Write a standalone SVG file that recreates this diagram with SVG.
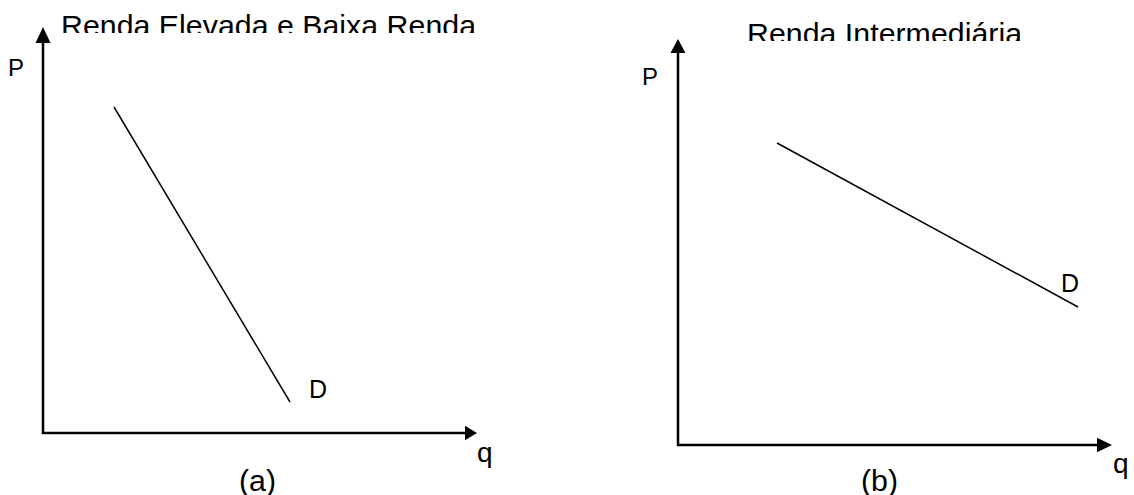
<svg xmlns="http://www.w3.org/2000/svg" width="1134" height="495" viewBox="0 0 1134 495">
<style>
text{font-family:"Liberation Sans",Arial,sans-serif;fill:#000}
.t{font-size:30.3px}
.l{font-size:24px}
.ax{stroke:#000;stroke-width:2.5;fill:none}
.d{stroke:#000;stroke-width:1.5;fill:none}
.ah{fill:#000}
</style>
<defs>
<clipPath id="clipA"><rect x="0" y="0" width="560" height="33"/></clipPath>
<clipPath id="clipB"><rect x="600" y="0" width="534" height="41"/></clipPath>
</defs>
<rect width="1134" height="495" fill="#fff"/>
<g id="panel-a">
<text class="t" x="61" y="35.5" textLength="415" clip-path="url(#clipA)">Renda Elevada e Baixa Renda</text>
<line class="ax" x1="43" y1="434" x2="43" y2="41"/>
<line class="ax" x1="42" y1="433" x2="467" y2="433"/>
<polygon class="ah" points="43,27 35.5,43 50.5,43"/>
<polygon class="ah" points="477,433 465,425.7 465,440.3"/>
<line class="d" x1="114" y1="107" x2="290" y2="402"/>
<text class="l" x="8" y="76">P</text>
<text class="l" x="309" y="398" style="font-size:25px">D</text>
<text class="l" x="477" y="462" style="font-size:28px">q</text>
<text class="t" x="239" y="491">(a)</text>
</g>
<g id="panel-b">
<text class="t" x="747" y="44" textLength="275" clip-path="url(#clipB)">Renda Intermediária</text>
<line class="ax" x1="678" y1="446" x2="678" y2="51"/>
<line class="ax" x1="677" y1="445" x2="1098" y2="445"/>
<polygon class="ah" points="678,39 670.5,53 685.5,53"/>
<polygon class="ah" points="1112,445 1097,437.7 1097,452.3"/>
<line class="d" x1="777" y1="143" x2="1078" y2="307"/>
<text class="l" x="642" y="85">P</text>
<text class="l" x="1061" y="292" style="font-size:25px">D</text>
<text class="l" x="1113" y="473" style="font-size:28px">q</text>
<text class="t" x="861" y="491">(b)</text>
</g>
</svg>
